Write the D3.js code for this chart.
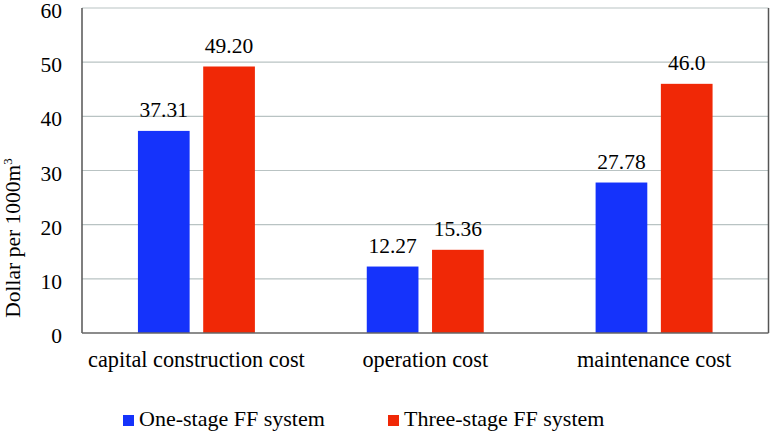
<!DOCTYPE html>
<html>
<head>
<meta charset="utf-8">
<script src="https://cdn.jsdelivr.net/npm/d3@7"></script>
</head>
<body style="margin:0; font-family: 'Liberation Serif';">
<div id="chart"></div>
<script>
const categories = ['capital construction cost', 'operation cost', 'maintenance cost'];
const seriesNames = ['One-stage FF system', 'Three-stage FF system'];
const oneStage = [37.31, 12.27, 27.78];
const threeStage = [49.20, 15.36, 46.0];
const valueLabels = [['37.31', '12.27', '27.78'], ['49.20', '15.36', '46.0']];
const yTicks = [0, 10, 20, 30, 40, 50, 60];
const colors = ['#1533fb', '#f02806'];

const W = 773, H = 432;
const m = { left: 82, right: 4.5, top: 8, bottom: 99 };

const svg = d3.select('#chart').append('svg').attr('width', W).attr('height', H)
  .style('display', 'block').style('font-family', '"Liberation Serif"');

const x0 = d3.scaleBand().domain(categories).range([m.left, W - m.right]).padding(0);
const x1 = d3.scaleBand().domain([0, 1]).range([0, x0.bandwidth()])
  .paddingInner(0.208).paddingOuter(0.857);
const y = d3.scaleLinear().domain([0, 60]).range([H - m.bottom, m.top]);

function label(sel) {
  return sel.style('font-family', '"Liberation Serif"').attr('fill', '#000');
}

// gridlines
svg.append('g').selectAll('line').data(yTicks.filter(d => d > 0)).join('line')
  .attr('x1', m.left).attr('x2', W - m.right)
  .attr('y1', d => y(d)).attr('y2', d => y(d))
  .attr('stroke', '#b9c3c3').attr('stroke-width', 1.2);

// y tick labels
svg.append('g').selectAll('text').data(yTicks).join('text')
  .call(label)
  .attr('x', 62).attr('y', d => y(d) + 10)
  .attr('text-anchor', 'end').attr('font-size', 21.5)
  .text(d => d);

// bars
const series = [oneStage, threeStage];
series.forEach((vals, s) => {
  const g = svg.append('g');
  g.selectAll('rect').data(vals).join('rect')
    .attr('x', (d, i) => x0(categories[i]) + x1(s))
    .attr('width', x1.bandwidth())
    .attr('y', d => y(d))
    .attr('height', d => y(0) - y(d))
    .attr('fill', colors[s]);
  g.selectAll('text').data(vals).join('text')
    .call(label)
    .attr('x', (d, i) => x0(categories[i]) + x1(s) + x1.bandwidth() / 2)
    .attr('y', d => y(d) - 14)
    .attr('text-anchor', 'middle').attr('font-size', 21.5)
    .text((d, i) => valueLabels[s][i]);
});

// frame: left, bottom, right axis lines
svg.append('line').attr('x1', m.left).attr('x2', m.left).attr('y1', m.top).attr('y2', y(0))
  .attr('stroke', '#555').attr('stroke-width', 1.5);
svg.append('line').attr('x1', W - m.right).attr('x2', W - m.right).attr('y1', m.top).attr('y2', y(0))
  .attr('stroke', '#555').attr('stroke-width', 1.5);
svg.append('line').attr('x1', m.left).attr('x2', W - m.right).attr('y1', y(0)).attr('y2', y(0))
  .attr('stroke', '#666').attr('stroke-width', 1.5);

// category labels
svg.append('g').selectAll('text').data(categories).join('text')
  .call(label)
  .attr('x', d => x0(d) + x0.bandwidth() / 2).attr('y', 367)
  .attr('text-anchor', 'middle').attr('font-size', 22.3)
  .text(d => d);

// y axis title
const yt = svg.append('text').call(label)
  .attr('transform', 'translate(20,238) rotate(-90)')
  .attr('text-anchor', 'middle').attr('font-size', 21.5);
yt.append('tspan').text('Dollar per 1000m');
yt.append('tspan').attr('font-size', 13).attr('dy', -8).text('3');

// legend
const legendX = [123, 388];
seriesNames.forEach((name, i) => {
  svg.append('rect').attr('x', legendX[i]).attr('y', 415).attr('width', 11).attr('height', 11)
    .attr('fill', colors[i]);
  svg.append('text').call(label).attr('x', legendX[i] + 16).attr('y', 426)
    .attr('font-size', 22).text(name);
});
</script>
</body>
</html>
